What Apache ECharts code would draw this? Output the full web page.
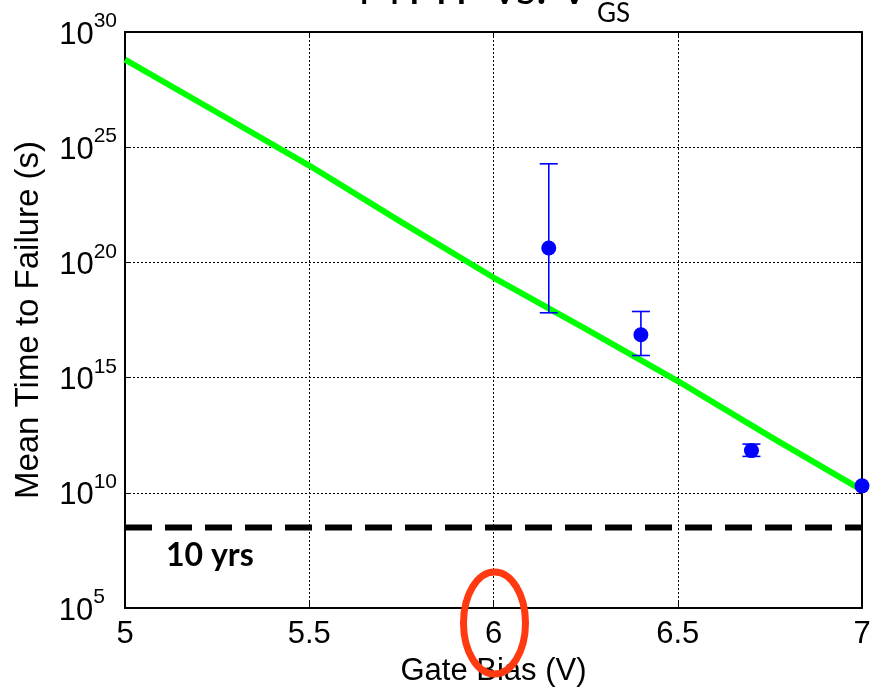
<!DOCTYPE html>
<html><head><meta charset="utf-8">
<script src="https://cdn.jsdelivr.net/npm/echarts@6/dist/echarts.min.js"></script>
<style>html,body{margin:0;padding:0;background:#fff}#c{width:871px;height:688px}</style>
</head><body><div id="c"></div>
<script>
// ---- data ----
const fitV = [5, 5.25, 5.5, 5.75, 6, 6.25, 6.5, 6.75, 7];
const fitMTTF = [6.3e28, 3.2e26, 1.6e24, 5.6e21, 2.2e19, 1.3e17, 7.1e14, 2.8e12, 1.3e10];
const measV = [6.15, 6.4, 6.7, 7];
const measMTTF = [4.2e20, 7.2e16, 6.8e11, 2.0e10];
const measLow = [6.5e17, 9.1e15, 3.8e11, 2.0e10];
const measHigh = [1.9e24, 7.4e17, 1.3e12, 2.0e10];
const tenYears = 3.156e8;
const tenYearsLabel = '10 yrs';
const xTickLabels = ['5', '5.5', '6', '6.5', '7'];
const yTickExponents = [5, 10, 15, 20, 25, 30];
const highlightV = 6;
const titleMain = 'MTTF vs. V';
const titleSub = 'GS';
const xName = 'Gate Bias (V)';
const yName = 'Mean Time to Failure (s)';

const chart = echarts.init(document.getElementById('c'), null, {renderer: 'canvas'});
const FONT = 'Liberation Sans';

const fitData = fitV.map((v, i) => [v, fitMTTF[i]]);
const measData = measV.map((v, i) => [v, measMTTF[i]]);
const errData = measV.map((v, i) => [v, measLow[i], measHigh[i]]);
const tenData = [[5, tenYears], [7, tenYears]];

const axisLineStyle = {show: true, lineStyle: {color: '#000', width: 2}};
const tickStyle = {show: true, inside: true, length: 6, lineStyle: {color: '#000', width: 1}};
const splitStyle = {show: true, lineStyle: {color: '#000', width: 1, type: [2, 2]}};

chart.setOption({
  animation: false,
  backgroundColor: '#fff',
  grid: {left: 125, right: 9, top: 32, bottom: 80, containLabel: false, outerBoundsMode: 'none'},
  xAxis: [{
    type: 'value', min: 5, max: 7, interval: 0.5, position: 'bottom',
    axisLine: axisLineStyle, axisTick: tickStyle, splitLine: splitStyle,
    axisLabel: {
      color: '#000', fontSize: 31, fontFamily: FONT, margin: 11,
      formatter: v => xTickLabels[Math.round((v - 5) / 0.5)]
    },
    name: xName, nameLocation: 'middle', nameGap: 48,
    nameTextStyle: {color: '#000', fontSize: 31, fontFamily: FONT}
  }, {
    type: 'value', min: 5, max: 7, interval: 0.5, position: 'top',
    axisLine: axisLineStyle, axisTick: tickStyle, splitLine: {show: false},
    axisLabel: {show: false}
  }],
  yAxis: [{
    type: 'log', logBase: 10, min: 1e5, max: 1e30, interval: 5, position: 'left',
    axisLine: axisLineStyle, axisTick: tickStyle, splitLine: splitStyle,
    axisLabel: {
      margin: 8,
      formatter: v => {
        const e = Math.round(Math.log10(v));
        if (!yTickExponents.includes(e)) return '';
        return '{b|10}{' + (e < 10 ? 's1' : 's') + '|' + e + '}';
      },
      rich: {
        b: {fontSize: 31, fontFamily: FONT, color: '#000', lineHeight: 42, verticalAlign: 'middle', padding: [6, 0, 0, 0]},
        s: {fontSize: 21, fontFamily: FONT, color: '#000', lineHeight: 42, verticalAlign: 'top'},
        s1: {fontSize: 21, fontFamily: FONT, color: '#000', lineHeight: 42, verticalAlign: 'top', padding: [0, 12, 0, 0]}
      }
    },
    name: yName, nameLocation: 'middle', nameGap: 80, nameRotate: 90,
    nameTextStyle: {color: '#000', fontSize: 33, fontFamily: FONT}
  }, {
    type: 'log', logBase: 10, min: 1e5, max: 1e30, interval: 5, position: 'right',
    axisLine: axisLineStyle, axisTick: tickStyle, splitLine: {show: false},
    axisLabel: {show: false}
  }],
  series: [{
    type: 'line', data: tenData, showSymbol: false, symbol: 'none',
    lineStyle: {color: '#000', width: 6, type: [27, 13]}, z: 3
  }, {
    type: 'line', data: fitData, showSymbol: false, symbol: 'none',
    lineStyle: {color: '#00ff00', width: 6}, z: 4
  }, {
    type: 'custom', data: errData, encode: {x: 0, y: [1, 2]}, clip: false, z: 5,
    renderItem: (params, api) => {
      const x = api.value(0), lo = api.value(1), hi = api.value(2);
      if (lo === hi) return {type: 'group', children: []};
      const pLo = api.coord([x, lo]), pHi = api.coord([x, hi]);
      const hw = 9;
      const st = {stroke: '#0000ff', lineWidth: 1.6};
      return {type: 'group', children: [
        {type: 'line', shape: {x1: pLo[0], y1: pLo[1], x2: pHi[0], y2: pHi[1]}, style: st},
        {type: 'line', shape: {x1: pLo[0] - hw, y1: pLo[1], x2: pLo[0] + hw, y2: pLo[1]}, style: st},
        {type: 'line', shape: {x1: pHi[0] - hw, y1: pHi[1], x2: pHi[0] + hw, y2: pHi[1]}, style: st}
      ]};
    }
  }, {
    type: 'scatter', data: measData, symbol: 'circle', symbolSize: 15, clip: false, z: 6,
    itemStyle: {color: '#0000ff', opacity: 1}
  }]
});

const cx = chart.convertToPixel({xAxisIndex: 0}, highlightV);
const tenPx = chart.convertToPixel({xAxisIndex: 0, yAxisIndex: 0}, [5, tenYears]);
chart.setOption({
  graphic: [
    {type: 'text', z: 10,
     style: {text: titleMain, x: 358, y: -34, font: '46px Lato', fill: '#000', verticalAlign: 'top'}},
    {type: 'text', z: 10,
     style: {text: titleSub, x: 597, y: 1, font: '26px Lato', fill: '#000', verticalAlign: 'top'}},
    {type: 'text', z: 10,
     style: {text: tenYearsLabel, x: 166, y: tenPx[1] + 28, font: 'bold 32px Lato', fill: '#000', verticalAlign: 'middle'}},
    {type: 'ellipse', z: 20, shape: {cx: cx + 1, cy: 623, rx: 31, ry: 51},
     style: {fill: 'none', stroke: '#ff3a10', lineWidth: 7}}
  ]
});
</script></body></html>
